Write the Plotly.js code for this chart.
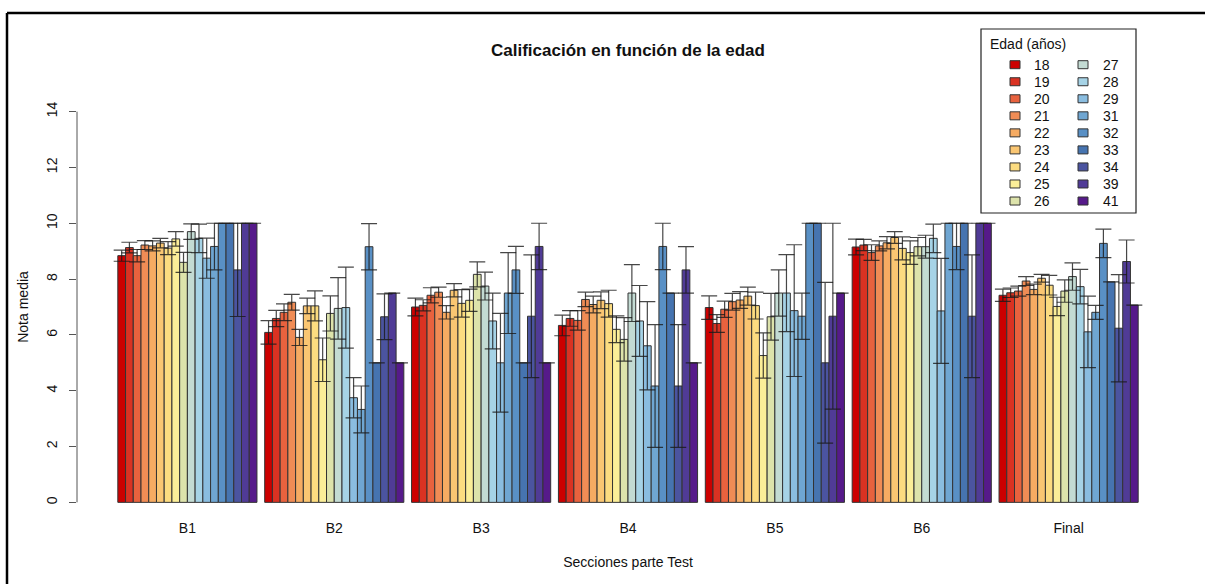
<!DOCTYPE html>
<html>
<head>
<meta charset="utf-8">
<script src="https://cdn.plot.ly/plotly-3.0.1.min.js"></script>
<style>html,body{margin:0;padding:0;background:#fff;}#chart{width:1205px;height:584px;}</style>
</head>
<body>
<div id="chart"></div>
<script>
// ---- data ----
const sections = ['B1', 'B2', 'B3', 'B4', 'B5', 'B6', 'Final'];
const ages = [18, 19, 20, 21, 22, 23, 24, 25, 26, 27, 28, 29, 31, 32, 33, 34, 39, 41];
const ageColors = ['#CC0000', '#DA3222', '#E8623E', '#F08C55', '#F6AB62', '#FAC672', '#FCDC80', '#FBEE98',
  '#DDE3AB', '#C3DBD3', '#A6D3E6', '#8ABDE0', '#6FA6D2', '#5990C5', '#4674B0', '#4B54A0', '#503B96', '#561A8A'];

const meanB1 = [8.84, 9.13, 8.84, 9.22, 9.19, 9.29, 9.11, 9.44, 8.60, 9.70, 9.46, 8.75, 9.17, 10, 10, 8.33, 10, 10];
const sdB1 = [0.20, 0.19, 0.22, 0.16, 0.18, 0.17, 0.23, 0.26, 0.36, 0.28, 0.51, 0.72, 0.84, 0, 0, 1.67, 0, 0];
const meanB2 = [6.09, 6.59, 6.81, 7.17, 5.91, 7.04, 7.04, 5.11, 6.77, 6.95, 6.98, 3.75, 3.33, 9.16, 5.0, 6.65, 7.5, 5.0];
const sdB2 = [0.42, 0.29, 0.30, 0.28, 0.29, 0.28, 0.54, 0.78, 0.63, 1.10, 1.45, 0.72, 0.84, 0.83, 0, 0.82, 0, 0];
const meanB3 = [7.0, 7.06, 7.42, 7.53, 6.81, 7.6, 7.13, 7.24, 8.17, 7.75, 6.5, 5.0, 7.5, 8.33, 5.0, 6.67, 9.17, 5.0];
const sdB3 = [0.32, 0.2, 0.27, 0.18, 0.24, 0.24, 0.49, 0.4, 0.45, 0.5, 1.0, 1.77, 1.45, 0.84, 0, 2.2, 0.83, 0];
const meanB4 = [6.34, 6.59, 6.52, 7.27, 7.09, 7.24, 7.12, 6.2, 5.84, 7.5, 6.5, 5.61, 4.17, 9.17, 7.5, 4.17, 8.33, 5.0];
const sdB4 = [0.37, 0.28, 0.35, 0.26, 0.3, 0.3, 0.48, 0.48, 0.78, 1.02, 1.27, 1.58, 2.2, 0.83, 0, 2.2, 0.83, 0];
const meanB5 = [6.98, 6.41, 6.92, 7.19, 7.25, 7.39, 7.05, 5.26, 6.65, 7.5, 7.5, 6.87, 6.67, 10, 10, 5.0, 6.67, 7.5];
const sdB5 = [0.42, 0.32, 0.29, 0.3, 0.3, 0.32, 0.48, 0.81, 0.84, 0.83, 1.38, 2.36, 0.83, 0, 0, 2.88, 3.33, 0];
const meanB6 = [9.15, 9.22, 8.95, 9.19, 9.3, 9.49, 9.1, 8.95, 9.16, 9.16, 9.46, 6.86, 10, 9.17, 10, 6.67, 10, 10];
const sdB6 = [0.28, 0.2, 0.28, 0.18, 0.22, 0.21, 0.41, 0.42, 0.33, 0.41, 0.51, 1.88, 0, 0.83, 0, 2.2, 0, 0];
const meanFinal = [7.42, 7.51, 7.57, 7.93, 7.63, 8.03, 7.78, 7.02, 7.57, 8.09, 7.73, 6.11, 6.81, 9.28, 7.9, 6.24, 8.63, 7.07];
const sdFinal = [0.22, 0.17, 0.18, 0.16, 0.19, 0.14, 0.35, 0.33, 0.4, 0.49, 0.62, 1.28, 0.25, 0.51, 0, 1.92, 0.77, 0];

const yTicks = [0, 2, 4, 6, 8, 10, 12, 14];
const maxScore = 10;

// ---- build ----
const means = [meanB1, meanB2, meanB3, meanB4, meanB5, meanB6, meanFinal];
const sds = [sdB1, sdB2, sdB3, sdB4, sdB5, sdB6, sdFinal];
const FONT = 'Liberation Sans, Arial, Helvetica, sans-serif';
const W = 1205, H = 584;
const M = {l: 77, r: 26, t: 96, b: 66};
const pw = W - M.l - M.r, ph = H - M.t - M.b;
const px = v => (v - M.l) / pw;
const py = v => (H - M.b - v) / ph;

const traces = [];
ages.forEach((age, j) => {
  traces.push({
    type: 'bar', name: String(age), x: sections, y: means.map(m => m[j]),
    offsetgroup: 'g' + j,
    marker: {color: ageColors[j], line: {color: '#333333', width: 1}},
    showlegend: false, hoverinfo: 'x+y+name'
  });
});
ages.forEach((age, j) => {
  const ys = means.map(m => m[j]);
  const plus = sds.map((s, i) => s[j] > 0 ? Math.min(ys[i] + s[j], maxScore) - ys[i] : null);
  const minus = sds.map(s => s[j] > 0 ? s[j] : null);
  traces.push({
    type: 'scatter', mode: 'markers', x: sections, y: ys, offsetgroup: 'g' + j,
    marker: {size: 2, opacity: 0}, showlegend: false, hoverinfo: 'skip',
    error_y: {type: 'data', symmetric: false, array: plus, arrayminus: minus,
      color: 'rgba(25,25,25,0.8)', thickness: 1.2, width: 8}
  });
});

const shapes = [
  {type: 'line', xref: 'paper', yref: 'y', x0: 0, x1: 0, y0: yTicks[0], y1: yTicks[yTicks.length - 1],
    line: {color: '#555555', width: 1}},
  // outer frame (top and left)
  {type: 'line', xref: 'paper', yref: 'paper', x0: px(7), x1: px(1210), y0: py(13), y1: py(13), line: {color: '#000', width: 2.5}},
  {type: 'line', xref: 'paper', yref: 'paper', x0: px(7), x1: px(7), y0: py(13), y1: py(600), line: {color: '#000', width: 2.5}},
  // legend box
  {type: 'rect', xref: 'paper', yref: 'paper', x0: px(981), x1: px(1136), y0: py(29), y1: py(213),
    line: {color: '#222', width: 1.2}, fillcolor: '#fff'}
];
const annotations = [
  {xref: 'paper', yref: 'paper', x: px(988), y: py(44), xanchor: 'left', yanchor: 'middle', showarrow: false,
    text: 'Edad (años)', font: {family: FONT, size: 14, color: '#111'}}
];
const perCol = Math.ceil(ages.length / 2);
ages.forEach((age, j) => {
  const col = Math.floor(j / perCol), row = j % perCol;
  const sx = col === 0 ? 1010 : 1078;
  const tx = col === 0 ? 1032 : 1101;
  const cy = 64.7 + row * 17.04;
  shapes.push({type: 'rect', xref: 'paper', yref: 'paper', x0: px(sx), x1: px(sx + 10), y0: py(cy - 4), y1: py(cy + 4),
    fillcolor: ageColors[j], line: {color: '#333', width: 1}});
  annotations.push({xref: 'paper', yref: 'paper', x: px(tx), y: py(cy), xanchor: 'left', yanchor: 'middle',
    showarrow: false, text: String(age), font: {family: FONT, size: 14, color: '#111'}});
});

const layout = {
  width: W, height: H, margin: M,
  paper_bgcolor: '#fff', plot_bgcolor: '#fff',
  font: {family: FONT, size: 14, color: '#111'},
  barmode: 'group', bargap: 1 / 19, bargroupgap: 0,
  scattermode: 'group', scattergap: 1 / 19,
  title: {text: 'Calificación en función de la edad', font: {family: FONT, size: 17, weight: 'bold', color: '#111'},
    xref: 'paper', x: 0.5, xanchor: 'center', yref: 'container', y: 1 - 50 / H, yanchor: 'middle'},
  xaxis: {type: 'category', range: [-0.7516, 6.7516], showline: false, ticks: '', showgrid: false, zeroline: false,
    tickfont: {size: 14}, title: {text: 'Secciones parte Test', font: {size: 14}, standoff: 22}},
  yaxis: {range: [-0.56, 14.56], tickvals: yTicks, ticktext: yTicks.map(String), ticks: 'outside', ticklen: 7,
    tickcolor: '#555', showline: false, showgrid: false, zeroline: false, tickangle: -90, ticklabelstandoff: 6,
    tickfont: {size: 14}, title: {text: 'Nota media', font: {size: 14}, standoff: 12}},
  shapes: shapes, annotations: annotations, showlegend: false
};

Plotly.newPlot('chart', traces, layout, {displayModeBar: false, staticPlot: true});
</script>
</body>
</html>
